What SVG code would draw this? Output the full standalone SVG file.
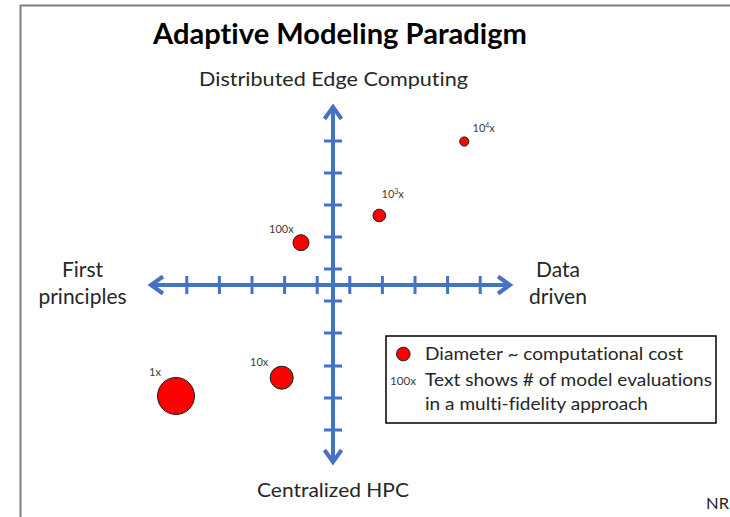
<svg xmlns="http://www.w3.org/2000/svg" width="730" height="517" viewBox="0 0 730 517">
  <style>
    text { font-variant-ligatures: none; font-feature-settings: "liga" 0, "clig" 0; }
    .frame { fill: none; stroke: #7f7f7f; stroke-width: 2; }
    .axis { stroke: #4472C4; stroke-width: 4; fill: none; }
    .tick { stroke: #4472C4; stroke-width: 3; }
    .head { fill: none; stroke: #4472C4; stroke-width: 4; stroke-linejoin: miter; stroke-linecap: butt; }
    .dot { fill: #ff0000; stroke: #1a1a1a; stroke-width: 1; }
    .title { font-family: Lato, "Liberation Sans", sans-serif; font-weight: bold; font-size: 28px; fill: #000; }
    .lbl { font-family: Lato, "Liberation Sans", sans-serif; font-size: 20px; fill: #262626; }
    .side { font-family: Lato, "Liberation Sans", sans-serif; font-size: 21px; fill: #262626; }
    .leg { font-family: Lato, "Liberation Sans", sans-serif; font-size: 18px; fill: #262626; }
    .small { font-family: Lato, "Liberation Sans", sans-serif; font-size: 11px; fill: #404040; }
    .sup { font-size: 7px; }
  </style>
  <defs>
    <marker id="chevron" markerUnits="userSpaceOnUse" markerWidth="30" markerHeight="30" refX="0" refY="0" orient="auto-start-reverse" overflow="visible">
      <path class="head" d="M -12 -8.5 L 0 0 L -12 8.5"/>
    </marker>
  </defs>

  <!-- slide frame -->
  <path class="frame" d="M 20.5 517 L 20.5 5.5 L 730 5.5"/>

  <text class="title" x="153" y="44" textLength="374" lengthAdjust="spacingAndGlyphs">Adaptive Modeling Paradigm</text>

  <!-- axes with tick marks -->
  <g id="connectors">
    <line class="axis" x1="151" y1="285" x2="510" y2="285" marker-start="url(#chevron)" marker-end="url(#chevron)"/>
    <line class="axis" x1="333" y1="107" x2="333" y2="462" marker-start="url(#chevron)" marker-end="url(#chevron)"/>
    <g class="tick">
      <line x1="186.8" y1="276" x2="186.8" y2="294"/>
      <line x1="219.4" y1="276" x2="219.4" y2="294"/>
      <line x1="252" y1="276" x2="252" y2="294"/>
      <line x1="284.6" y1="276" x2="284.6" y2="294"/>
      <line x1="317.2" y1="276" x2="317.2" y2="294"/>
      <line x1="349.8" y1="276" x2="349.8" y2="294"/>
      <line x1="382.4" y1="276" x2="382.4" y2="294"/>
      <line x1="415" y1="276" x2="415" y2="294"/>
      <line x1="447.6" y1="276" x2="447.6" y2="294"/>
      <line x1="480.2" y1="276" x2="480.2" y2="294"/>
      <line x1="324" y1="141" x2="342" y2="141"/>
      <line x1="324" y1="173" x2="342" y2="173"/>
      <line x1="324" y1="205" x2="342" y2="205"/>
      <line x1="324" y1="237" x2="342" y2="237"/>
      <line x1="324" y1="269" x2="342" y2="269"/>
      <line x1="324" y1="301" x2="342" y2="301"/>
      <line x1="324" y1="333" x2="342" y2="333"/>
      <line x1="324" y1="366" x2="342" y2="366"/>
      <line x1="324" y1="398" x2="342" y2="398"/>
      <line x1="324" y1="430" x2="342" y2="430"/>
    </g>
  </g>

  <!-- axis labels -->
  <g id="axis-top">
    <text class="lbl" x="199" y="86" textLength="269" lengthAdjust="spacingAndGlyphs">Distributed Edge Computing</text>
  </g>
  <g id="axis-bottom">
    <text class="lbl" x="257" y="497" textLength="152" lengthAdjust="spacingAndGlyphs">Centralized HPC</text>
  </g>
  <g id="axis-left">
    <text class="side" x="82.5" y="277" text-anchor="middle">First</text>
    <text class="side" x="82.5" y="304" text-anchor="middle">principles</text>
  </g>
  <g id="axis-right">
    <text class="side" x="558" y="277" text-anchor="middle">Data</text>
    <text class="side" x="558" y="304" text-anchor="middle">driven</text>
  </g>

  <!-- model fidelity points -->
  <g id="node-1x">
    <circle class="dot" cx="176" cy="396" r="18.5"/>
    <text class="small" x="149" y="376">1x</text>
  </g>
  <g id="node-10x">
    <circle class="dot" cx="281.7" cy="377.7" r="11.5"/>
    <text class="small" x="250" y="365.5">10x</text>
  </g>
  <g id="node-100x">
    <circle class="dot" cx="301" cy="242.7" r="8"/>
    <text class="small" x="269" y="232.5">100x</text>
  </g>
  <g id="node-1000x">
    <circle class="dot" cx="379.3" cy="215.5" r="6.3"/>
    <text class="small" x="381.5" y="197.5">10<tspan class="sup" dy="-4">3</tspan><tspan dy="4">x</tspan></text>
  </g>
  <g id="node-10000x">
    <circle class="dot" cx="464.3" cy="141.5" r="4.6"/>
    <text class="small" x="472.5" y="131.5">10<tspan class="sup" dy="-4">4</tspan><tspan dy="4">x</tspan></text>
  </g>

  <!-- legend -->
  <g id="legend">
    <rect x="386" y="336" width="330" height="87" fill="#fff" stroke="#000" stroke-width="1.5"/>
    <circle class="dot" cx="403.3" cy="354" r="6.8"/>
    <text class="leg" x="425" y="359.5" textLength="258" lengthAdjust="spacingAndGlyphs">Diameter ~ computational cost</text>
    <text class="small" x="390" y="385" textLength="26" lengthAdjust="spacingAndGlyphs">100x</text>
    <text class="leg" x="425" y="386" textLength="287" lengthAdjust="spacingAndGlyphs">Text shows # of model evaluations</text>
    <text class="leg" x="425" y="410" textLength="223" lengthAdjust="spacingAndGlyphs">in a multi-fidelity approach</text>
  </g>

  <g id="author">
    <text class="lbl" x="706" y="509" textLength="23" lengthAdjust="spacingAndGlyphs" style="font-size:15px">NR</text>
  </g>
</svg>
